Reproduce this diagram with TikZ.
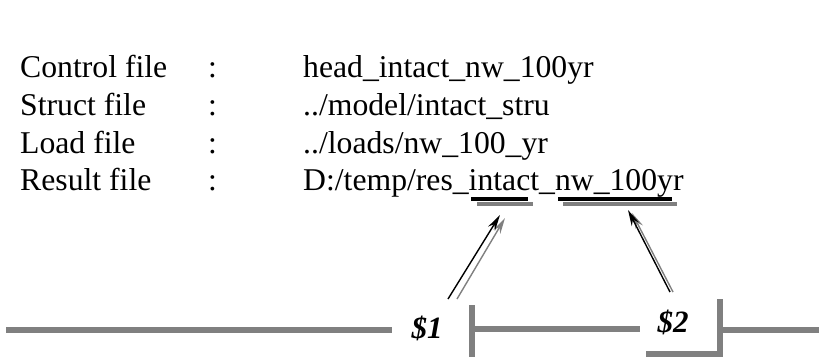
\documentclass[tikz,border=0pt]{standalone}
\usepackage{fontspec}
\setmainfont{Liberation Serif}
\usetikzlibrary{arrows.meta}
\definecolor{wire}{HTML}{808080}
\tikzset{
  txt/.style={anchor=base west, inner sep=0pt, font=\fontsize{31.7}{38}\selectfont},
  lbl/.style={inner sep=0pt, font=\fontsize{31}{36}\selectfont\bfseries\itshape},
  wireln/.style={draw=wire, line width=6pt},
  ulblack/.style={draw=black, line width=4pt},
  ulgray/.style={draw=wire, line width=4pt},
  arrblack/.style={draw=black, line width=1.4pt, -{Stealth[length=16pt,width=8pt]}},
  arrgray/.style={draw=wire, line width=1.4pt, -{Stealth[length=16pt,width=8pt]}}
}
\begin{document}
\begin{tikzpicture}[x=1pt,y=-1pt]
\useasboundingbox (0,0) rectangle (819,357);
% labels
\node[txt] (k1) at (20,77) {Control file};
\node[txt] (k2) at (20,115) {Struct file};
\node[txt] (k3) at (20,153) {Load file};
\node[txt] (k4) at (20,190) {Result file};
\node[txt] (c1) at (208,77) {:};
\node[txt] (c2) at (208,115) {:};
\node[txt] (c3) at (208,153) {:};
\node[txt] (c4) at (208,190) {:};
\node[txt] (v1) at (303,77) {head\_intact\_nw\_100yr};
\node[txt] (v2) at (303,115) {../model/intact\_stru};
\node[txt] (v3) at (303,153) {../loads/nw\_100\_yr};
\node[txt] (v4) at (303,190) {D:/temp/res\_intact\_nw\_100yr};
% underlines
\draw[ulgray] (477,203.5) -- (533,203.5);
\draw[ulblack] (471,198.5) -- (528,198.5);
\draw[ulgray] (563,204) -- (677,204);
\draw[ulblack] (558,198.5) -- (672,198.5);
% bottom pipeline
\node[lbl] (d1) at (427,328) {\$1};
\node[lbl] (d2) at (673,322) {\$2};
\draw[wireln] (6,330) -- (392,330);
\draw[wireln] (472,305) -- (472,357);
\draw[wireln] (472,329) -- (640,329);
\draw[wireln] (646,354) -- (723,354);
\draw[wireln] (720,299) -- (720,357);
\draw[wireln] (720,330) -- (819,330);
% arrows
\coordinate (a1s) at (448,299);
\coordinate (a1t) at (500,215);
\coordinate (g1s) at (457,299);
\coordinate (g1t) at (505,218);
\coordinate (a2s) at (670,292);
\coordinate (a2t) at (628,210);
\coordinate (g2s) at (673,292);
\coordinate (g2t) at (632,213);
\draw[arrgray] (g1s) -- (g1t);
\draw[arrblack] (a1s) -- (a1t);
\draw[arrgray] (g2s) -- (g2t);
\draw[arrblack] (a2s) -- (a2t);
\end{tikzpicture}
\end{document}
